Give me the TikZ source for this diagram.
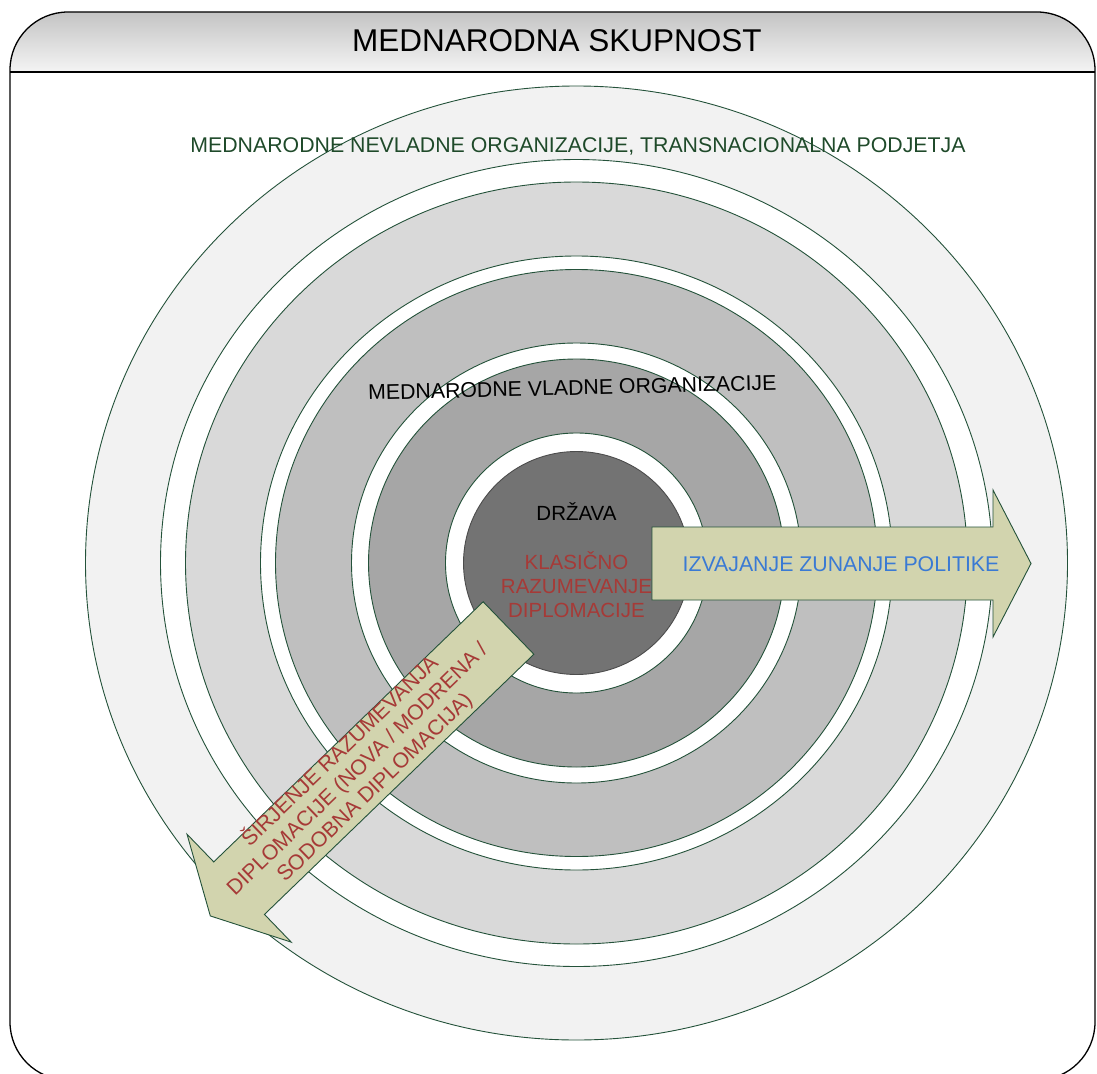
\documentclass[tikz,border=0pt]{standalone}
\usepackage{fontspec}
\setmainfont{Liberation Sans}

\definecolor{ringline}{HTML}{24523A}
\definecolor{ngotext}{HTML}{1F4A2A}
\definecolor{arrowfill}{HTML}{D2D4AE}
\definecolor{redtext}{HTML}{A63A37}
\definecolor{bluetext}{HTML}{3A7AD4}
\definecolor{headtop}{HTML}{C4C4C4}
\definecolor{headbot}{HTML}{F4F4F4}
\definecolor{ringA}{HTML}{F2F2F2}
\definecolor{ringB}{HTML}{D9D9D9}
\definecolor{ringC}{HTML}{BFBFBF}
\definecolor{ringD}{HTML}{A6A6A6}
\definecolor{core}{HTML}{737373}

\tikzset{
  ring/.style={draw=ringline, line width=0.9pt, even odd rule},
  bigarrow/.style={draw=ringline, line width=0.9pt, fill=arrowfill},
  lbl/.style={inner sep=0pt, align=center, font=\fontsize{21.3}{25}\selectfont},
}

\begin{document}
\begin{tikzpicture}[x=1pt,y=-1pt]
	\useasboundingbox (0,0) rectangle (1097,1073);

	% frame and header
	\begin{scope}
		\clip[rounded corners=58] (10,12) rectangle (1095,1080);
		\shade[top color=headtop, bottom color=headbot] (10,12) rectangle (1095,72);
	\end{scope}
	\draw[line width=1.3] (10,72) -- (1095,72);
	\draw[rounded corners=58, line width=1.3] (10,12) rectangle (1095,1080);
	\node[anchor=base, inner sep=0pt, font=\fontsize{31.5}{36}\selectfont] (title) at (557,52) {MEDNARODNA SKUPNOST};

	% rings
	\coordinate (c) at (576.5,563);
	\filldraw[ring, fill=ringA] (c) ellipse (491 and 477) (c) ellipse (416 and 403.5);
	\filldraw[ring, fill=ringB] (c) ellipse (391 and 381) (c) ellipse (316 and 307);
	\filldraw[ring, fill=ringC] (c) ellipse (301 and 293.5) (c) ellipse (225 and 220);
	\filldraw[ring, fill=ringD] (c) ellipse (208 and 204) (c) ellipse (131 and 130);
	\filldraw[fill=core, draw=black!70, line width=0.9pt] (c) ellipse (113 and 111.5);

	\node[lbl, anchor=base, text=ngotext] (ngo) at (578,152) {MEDNARODNE NEVLADNE ORGANIZACIJE, TRANSNACIONALNA PODJETJA};
	\node[lbl, anchor=base, rotate=1.4] (igo) at (572.5,395) {MEDNARODNE VLADNE ORGANIZACIJE};
	\node[lbl, anchor=base, font=\fontsize{20.5}{24}\selectfont] (state) at (576.5,520) {DRŽAVA};
	\node[lbl, text=redtext, font=\fontsize{20.5}{24}\selectfont] (classic) at (576.5,585) {KLASIČNO\\RAZUMEVANJE\\DIPLOMACIJE};

	% arrows
	\begin{scope}[shift={(652,563.5)}]
		\filldraw[bigarrow] (0,-36.5) -- (341,-36.5) -- (341,-73.5) -- (379,0) -- (341,73.5) -- (341,36.5) -- (0,36.5) -- cycle;
	\end{scope}
	\node[lbl, anchor=base, text=bluetext] (policy) at (841,571) {IZVAJANJE ZUNANJE POLITIKE};

	\begin{scope}[shift={(508.5,628)}, rotate=224]
		\filldraw[bigarrow] (0,-36.5) -- (374.5,-36.5) -- (374.5,-75) -- (414.5,0) -- (374.5,75) -- (374.5,36.5) -- (0,36.5) -- cycle;
	\end{scope}
	\node[lbl, text=redtext, rotate=44] (expand) at (357,769) {ŠIRJENJE RAZUMEVANJA\\DIPLOMACIJE (NOVA / MODRENA /\\SODOBNA DIPLOMACIJA)};
\end{tikzpicture}
\end{document}
